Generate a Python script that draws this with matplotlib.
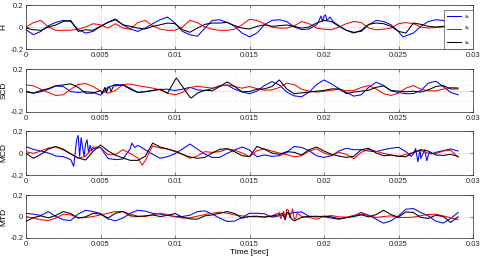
import numpy as np
import matplotlib
matplotlib.use("Agg")
import matplotlib.pyplot as plt
from matplotlib.ticker import MultipleLocator

plt.rcParams['font.family'] = ['Liberation Sans', 'DejaVu Sans']

# common time grid [sec]
t = np.arange(59) * 0.0005

panel_names = ["H", "SCD", "MCD", "MTD"]
legend_labels = ["$s_x$", "$s_y$", "$s_z$"]
xtick_vals = [0, 0.005, 0.01, 0.015, 0.02, 0.025, 0.03]
xtick_labels = ["0", "0.005", "0.01", "0.015", "0.02", "0.025", "0.03"]
ytick_vals = [-0.2, 0, 0.2]
ytick_labels = ["-0.2", "0", "0.2"]

# ---------------- H ----------------
H_blue = [-0.024, -0.07, -0.04, 0.012, 0.042, 0.06, 0.05, -0.024, -0.055, -0.04,
          0.006, 0.042, 0.073, 0.02, -0.018, -0.04, -0.01, 0.03, 0.066, 0.09,
          0.036, -0.04, -0.07, -0.085, -0.01, 0.06, 0.066, 0.042, 0.006, -0.055,
          -0.09, -0.055, 0.02, 0.06, 0.066, 0.05, 0, -0.024, -0.018, 0.02,
          0.097, 0.073, 0.012, -0.03, -0.048, -0.04, 0.02, 0.06, 0.05, 0.02,
          -0.04, -0.08, -0.055, 0.006, 0.05, 0.066, 0.06, 0.02, 0.012]
H_red = [0, 0.04, 0.06, 0, -0.03, -0.03, -0.03, -0.02, 0, 0.03,
         0.02, -0.01, 0.03, -0.01, -0.02, 0.04, 0.06, 0.01, -0.02, -0.03,
         -0.03, 0, 0.06, 0.04, 0, -0.02, -0.03, -0.03, -0.02, 0.02,
         0.07, 0.06, 0.03, 0, -0.01, -0.01, 0.01, 0.05, 0.03, -0.01,
         -0.02, -0.025, 0, 0.03, 0.05, 0.04, -0.01, -0.025, -0.02, -0.01,
         0.03, 0.04, 0.03, 0, -0.01, -0.005, 0, 0.03, 0.02]
H_black = [-0.01, -0.025, -0.03, 0, 0.018, 0.05, 0.06, -0.04, -0.025, -0.03,
           0.006, 0.042, 0.066, 0.02, 0.006, -0.01, -0.018, 0.006, 0.02, 0.036,
           0.03, -0.024, -0.048, -0.01, 0.024, 0.036, 0.036, 0.042, 0.012, -0.01,
           -0.018, 0.006, 0.02, 0.006, 0.012, 0.018, 0.006, -0.01, 0, 0.036,
           0.06, 0.05, 0.006, -0.03, -0.055, -0.03, 0.024, 0.036, 0.03, 0.006,
           -0.04, -0.055, 0.036, 0.024, 0.006, 0, 0.006, 0.012, 0.006]
# extra readings in the burst regions
H_blue_xt = [0.0196, 0.0198, 0.0199, 0.0201, 0.0202, 0.0204, 0.0206, 0.0251, 0.0253]
H_blue_xv = [0.04, 0.10, 0.05, 0.11, 0.06, 0.09, 0.05, -0.06, -0.09]

# ---------------- SCD ----------------
SCD_blue = [-0.01, -0.025, -0.012, 0.012, 0.043, 0.037, -0.01, -0.018, -0.01, -0.018,
            -0.043, 0.03, 0.055, 0.052, 0.022, -0.018, -0.012, 0, 0.01, 0.012,
            0, 0.012, 0.03, 0.006, 0, 0.018, 0.043, 0.05, 0.012, -0.012,
            -0.03, -0.006, 0.046, 0.083, 0.052, -0.015, -0.05, -0.058, -0.015, 0.055,
            0.098, 0.062, 0.018, -0.018, -0.052, -0.04, 0.03, 0.077, 0.046, -0.003,
            -0.018, -0.03, -0.028, 0, 0.068, 0.086, 0.037, -0.018, -0.04]
SCD_red = [0.052, 0.043, 0.012, -0.018, -0.046, -0.04, 0.012, 0.055, 0.065, 0.037,
           -0.003, -0.025, 0, 0.055, 0.06, 0.046, 0.034, 0.022, 0.006, -0.025,
           -0.04, -0.018, 0.028, 0.04, 0.03, 0.022, 0.043, 0.052, 0.037, 0.022,
           0.037, 0.018, 0.003, 0.006, 0.028, 0.068, 0.055, 0.012, -0.006, -0.015,
           -0.006, 0.003, 0.012, -0.003, 0, 0.028, 0.046, 0.015, -0.03, -0.046,
           -0.025, 0.022, 0.046, 0.012, -0.003, -0.003, 0.012, 0.028, 0.025]
SCD_black = [-0.01, -0.025, 0, 0.018, 0.043, 0.052, 0.062, 0.03, -0.025, -0.025,
             0, 0.022, 0.043, 0.052, 0.012, -0.018, -0.01, 0, 0.012, -0.025,
             0.098, 0.037, -0.062, -0.025, 0.003, -0.003, 0.037, 0.08, 0.037, -0.012,
             -0.01, 0.012, 0.015, 0.037, 0.098, 0.015, -0.03, -0.022, -0.015, -0.006,
             0, 0.015, 0.015, -0.028, -0.015, -0.006, 0.003, 0.03, 0.043, 0,
             -0.006, -0.012, -0.006, -0.015, 0.006, 0.037, 0.046, 0.015, 0.015]
SCD_black_xt = [0.0051, 0.0053, 0.0054, 0.0056, 0.0057, 0.0059, 0.0101, 0.0111]
SCD_black_xv = [-0.03, 0.03, -0.02, 0.035, -0.01, 0.05, 0.115, -0.07]

# ---------------- MCD ----------------
MCD_blue = [0.058, 0.033, 0.018, 0, -0.027, -0.033, -0.06, 0.16, 0.08, 0.04,
            0.05, -0.05, -0.06, -0.055, 0.04, 0.07, 0.03, -0.012, -0.048, -0.033,
            -0.006, 0.036, 0.082, 0.036, -0.01, -0.04, -0.04, -0.003, 0.027, 0.055,
            0.027, -0.034, -0.018, -0.03, -0.025, 0.006, 0.06, 0.05, 0.022, -0.025,
            -0.04, -0.025, 0.018, 0.043, 0.03, 0.03, 0.018, 0.012, 0.03, 0.043,
            0.052, 0.012, -0.01, -0.05, -0.02, 0.006, 0.022, 0.037, 0.018]
MCD_blue_xt = [0.0031, 0.0032, 0.0033, 0.0034, 0.0036, 0.0037, 0.0038, 0.0039,
               0.0041, 0.0042, 0.0043, 0.0044, 0.0071, 0.0073,
               0.02585, 0.02615, 0.0263, 0.02645, 0.02675, 0.0269, 0.02705, 0.0272]
MCD_blue_xv = [-0.09, -0.12, 0.0, 0.12, -0.03, 0.14, 0.05, -0.03,
               0.12, 0.0, 0.07, 0.02, 0.09, 0.05,
               -0.03, 0.04, -0.08, 0.03, 0.03, -0.07, 0.01, -0.01]
MCD_red = [0.012, -0.003, 0.018, 0.045, 0.058, 0.036, -0.006, -0.048, -0.03, 0.055,
           0.05, -0.015, -0.015, 0.03, -0.005, -0.045, -0.07, 0.065, 0.045, 0.036,
           0.012, -0.012, -0.048, -0.027, 0.012, 0.006, 0.012, 0.036, 0.027, 0,
           -0.033, 0.022, 0.037, 0.018, 0, -0.015, -0.034, -0.025, 0.018, 0.037,
           0, -0.022, 0.006, -0.012, -0.052, 0.006, 0.034, 0.015, -0.003, -0.018,
           -0.03, -0.012, 0.003, 0.022, -0.003, -0.006, 0.018, 0.025, -0.04]
MCD_red_xt = [0.0078]
MCD_red_xv = [-0.11]
MCD_black = [-0.003, -0.048, -0.012, 0.036, 0.058, 0.03, -0.009, -0.045, -0.064, 0.015,
             0.073, 0.02, -0.02, -0.045, -0.067, -0.067, -0.03, 0.09, 0.055, 0.036,
             0.018, -0.012, -0.036, -0.048, -0.04, 0, 0.033, 0.04, 0.012, -0.024,
             -0.033, 0.06, 0.034, 0, -0.012, 0.012, 0.006, -0.018, 0.03, 0.055,
             0.018, -0.012, -0.028, -0.04, -0.03, 0.03, 0.043, 0, -0.025, -0.018,
             -0.03, -0.034, 0.006, 0.03, 0.018, -0.018, -0.022, -0.012, -0.03]

# ---------------- MTD ----------------
MTD_blue = [0.03, 0.022, 0.01, 0.046, 0, -0.03, -0.037, 0.022, 0.058, 0.046,
            0.028, -0.022, -0.04, -0.015, 0.03, 0.058, 0.05, 0.03, 0.022, 0.01,
            0, 0, 0.012, 0.046, 0.052, 0.022, -0.015, -0.046, -0.043, -0.01,
            0.03, 0.03, 0.025, -0.006, 0.006, 0.022, 0.037, 0.043, 0, 0.003,
            -0.003, -0.015, -0.025, -0.009, 0.006, 0.037, 0.012, -0.025, -0.062, -0.04,
            0.006, 0.068, 0.074, 0.037, 0.006, -0.043, -0.062, -0.018, 0.037]
MTD_red = [0, -0.015, -0.03, -0.037, -0.015, 0.022, 0.015, -0.012, -0.01, 0,
           0.015, 0.03, 0.046, 0.046, 0.022, 0.003, 0, 0.015, 0.03, 0.018,
           -0.003, -0.015, -0.012, 0.003, 0.018, 0.03, 0.04, 0.03, 0.015, 0.006,
           0, -0.003, -0.003, 0.006, 0.037, 0.068, -0.025, 0, -0.009, -0.025,
           0, 0.009, -0.003, -0.006, 0.009, 0.022, 0.009, -0.009, 0, 0.006,
           -0.009, -0.009, -0.006, 0.009, 0.018, 0.022, 0.006, -0.012, -0.028]
MTD_red_xt = [0.0171, 0.0173, 0.0174, 0.0176, 0.0177, 0.0179, 0.0181, 0.0182]
MTD_red_xv = [-0.02, 0.05, -0.03, 0.06, -0.01, 0.07, -0.02, 0.03]
MTD_black = [-0.046, -0.01, 0.006, -0.012, 0.01, 0.046, 0.028, -0.015, -0.003, 0.03,
             0.022, -0.015, 0.03, 0.046, 0.006, 0, 0.006, 0.015, 0, 0.01,
             0.028, -0.006, -0.022, -0.025, 0.006, 0.015, 0.03, 0.046, 0.028, -0.015,
             0, 0.003, -0.006, 0.003, 0.018, 0.037, -0.04, -0.009, 0.003, -0.003,
             0.003, -0.003, -0.022, -0.012, 0, 0.015, -0.003, 0.018, 0.058, 0.018,
             -0.006, 0.043, 0.037, -0.009, -0.018, 0.012, 0, -0.055, -0.003]
MTD_black_xt = [0.0172, 0.0174, 0.0176, 0.0178]
MTD_black_xv = [0.03, -0.03, 0.04, -0.02]

empty = []
panels = [
    [(H_blue, H_blue_xt, H_blue_xv), (H_red, empty, empty), (H_black, empty, empty)],
    [(SCD_blue, empty, empty), (SCD_red, empty, empty), (SCD_black, SCD_black_xt, SCD_black_xv)],
    [(MCD_blue, MCD_blue_xt, MCD_blue_xv), (MCD_red, MCD_red_xt, MCD_red_xv), (MCD_black, empty, empty)],
    [(MTD_blue, empty, empty), (MTD_red, MTD_red_xt, MTD_red_xv), (MTD_black, MTD_black_xt, MTD_black_xv)],
]
colors = ["#0000ff", "#ff0000", "#000000"]

W, H = 485, 257
fig = plt.figure(figsize=(W / 100, H / 100), dpi=100)
left_px, right_px = 26, 473
tops = [5, 69, 131, 195]
bots = [49, 112, 175, 238]

for i, name in enumerate(panel_names):
    ax = fig.add_axes([left_px / W, 1 - bots[i] / H, (right_px - left_px) / W, (bots[i] - tops[i]) / H])
    handles = []
    for (vals, xt, xv), c, lab in zip(panels[i], colors, legend_labels):
        tt = np.concatenate([t, np.asarray(xt, dtype=float)])
        vv = np.concatenate([np.asarray(vals, dtype=float), np.asarray(xv, dtype=float)])
        order = np.argsort(tt, kind="stable")
        h, = ax.plot(tt[order], vv[order], color=c, lw=0.75, label=lab)
        handles.append(h)
    ax.set_xlim(0, 0.03)
    ax.set_ylim(-0.2, 0.2)
    ax.set_xticks(xtick_vals)
    ax.set_xticklabels(xtick_labels)
    ax.set_yticks(ytick_vals)
    ax.set_yticklabels(ytick_labels)
    ax.xaxis.set_minor_locator(MultipleLocator(0.001))
    ax.yaxis.set_minor_locator(MultipleLocator(0.05))
    ax.grid(which="major", color="#dcdcdc", lw=0.5)
    ax.grid(which="minor", color="#efefef", lw=0.4, ls=":")
    ax.set_axisbelow(True)
    ax.tick_params(axis="both", which="both", direction="in", labelsize=5.5,
                   colors="#262626", length=2, width=0.4, pad=2)
    ax.tick_params(which="minor", length=0)
    ax.tick_params(top=True, right=True)
    for s in ax.spines.values():
        s.set_color("#262626")
        s.set_linewidth(0.5)
    ax.set_ylabel(name, fontsize=6, labelpad=2)
    if i == 0:
        leg = ax.legend(handles=handles, loc="upper right", bbox_to_anchor=(1.0, 0.89),
                        borderaxespad=0, fontsize=3.5, handlelength=2.8,
                        labelspacing=0.9, borderpad=0.6, handletextpad=0.6,
                        fancybox=False, framealpha=1, edgecolor="#262626")
        leg.get_frame().set_linewidth(0.4)
    if i == 3:
        ax.set_xlabel("Time [sec]", fontsize=6, labelpad=1)

fig.savefig("out.png", dpi=100)
